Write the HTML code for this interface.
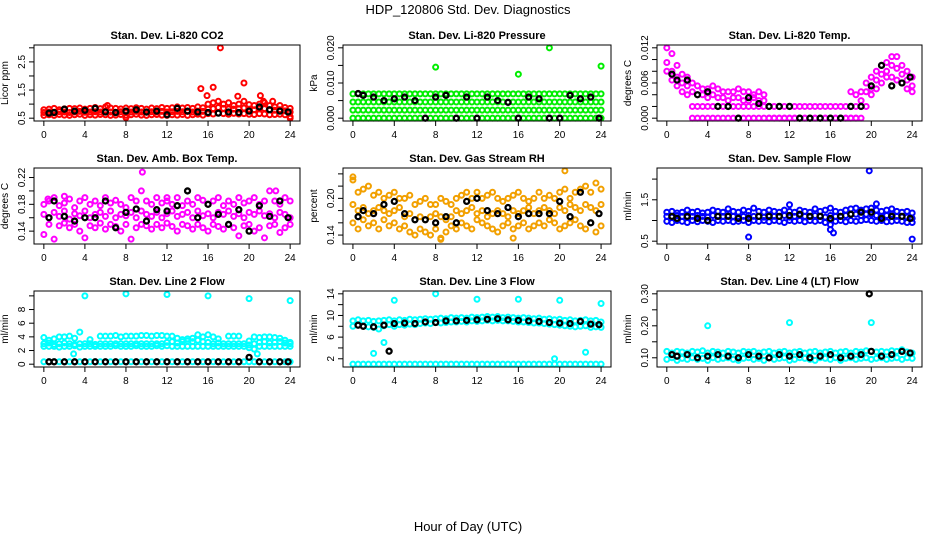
<!DOCTYPE html>
<html><head><meta charset="utf-8"><style>
body{margin:0;background:#fff;width:936px;height:540px;overflow:hidden}
svg text{font-family:"Liberation Sans",sans-serif}
</style></head><body>
<svg id="chart" width="936" height="540" viewBox="0 0 936 540" xmlns="http://www.w3.org/2000/svg">
<rect width="936" height="540" fill="#fff"/>
<text x="468" y="14" font-size="13" text-anchor="middle">HDP_120806  Std. Dev. Diagnostics</text>
<text x="468" y="531" font-size="13" text-anchor="middle">Hour of Day (UTC)</text>
</svg>
<script>
const hours=[0,0.5,1,1.5,2,2.5,3,3.5,4,4.5,5,5.5,6,6.5,7,7.5,8,8.5,9,9.5,10,10.5,11,11.5,12,12.5,13,13.5,14,14.5,15,15.5,16,16.5,17,17.5,18,18.5,19,19.5,20,20.5,21,21.5,22,22.5,23,23.5,24];
const bhours=[0.5,1,2,3,4,5,6,7,8,9,10,11,12,13,14,15,16,17,18,19,20,21,22,23,23.8];
const xTicks=[0,4,8,12,16,20,24];

const co2Hi=[0.8,0.82,0.85,0.8,0.83,0.85,0.84,0.86,0.82,0.85,0.88,0.84,0.9,0.86,0.85,0.83,0.86,0.84,0.87,0.85,0.82,0.86,0.84,0.88,0.85,0.87,0.9,0.86,0.88,0.85,0.9,0.87,1.0,1.05,1.1,1.0,1.05,0.95,1.0,1.1,0.98,0.95,1.0,1.05,0.95,0.9,0.95,0.88,0.85];
const co2Mid=[0.7,0.72,0.71,0.73,0.72,0.7,0.72,0.74,0.71,0.72,0.73,0.72,0.74,0.72,0.71,0.73,0.72,0.72,0.74,0.72,0.71,0.73,0.72,0.74,0.72,0.73,0.74,0.73,0.74,0.72,0.75,0.74,0.82,0.84,0.88,0.85,0.83,0.82,0.84,0.86,0.82,0.8,0.83,0.84,0.8,0.78,0.8,0.76,0.72];
const co2Lo=[0.6,0.62,0.6,0.63,0.61,0.6,0.62,0.64,0.6,0.62,0.61,0.63,0.62,0.6,0.61,0.63,0.6,0.62,0.64,0.61,0.6,0.62,0.63,0.61,0.6,0.62,0.61,0.63,0.6,0.62,0.64,0.61,0.66,0.65,0.68,0.66,0.64,0.67,0.65,0.66,0.64,0.63,0.66,0.65,0.62,0.63,0.64,0.62,0.55];
const co2Out=[[15.3,1.55],[15.9,1.3],[16.5,1.6],[17.2,3.0],[18.9,1.28],[19.5,1.75],[21.1,1.3],[21.4,1.1],[22.3,1.1],[24,0.5],[8,0.52],[6.2,0.95]];
const co2Black=[0.68,0.7,0.82,0.75,0.78,0.85,0.72,0.7,0.75,0.8,0.72,0.75,0.62,0.85,0.75,0.72,0.7,0.68,0.72,0.7,0.75,0.9,0.8,0.75,0.72];

const pressLevels=[0,0.0023,0.0046,0.0069];
const pressOut=[[8,0.0145],[16,0.0125],[19,0.02],[24,0.0148]];
const pressBlack=[0.007,0.0065,0.006,0.005,0.0055,0.006,0.005,0,0.006,0.0065,0,0.006,0,0.006,0.005,0.0045,0,0.006,0.0055,0,0,0.0065,0.0055,0.006,0];

const tempHi=[0.012,0.011,0.009,0.0075,0.007,0.006,0.0055,0.005,0.005,0.0055,0.005,0.0045,0.0045,0.0045,0.005,0.0045,0.0045,0.004,0.0045,0.004,0.002,0.002,0.002,0.002,0.002,0.002,0.002,0.002,0.002,0.002,0.002,0.002,0.002,0.002,0.002,0.002,0.0045,0.004,0.0045,0.006,0.007,0.008,0.009,0.0095,0.0105,0.0105,0.009,0.008,0.007];
const tempMid=[0.0095,0.008,0.007,0.006,0.0055,0.0045,0.004,0.004,0.0035,0.004,0.0035,0.0035,0.003,0.0035,0.0035,0.003,0.003,0.0035,0.003,0.003,null,null,null,null,null,null,null,null,null,null,null,null,null,null,null,null,0.002,0.002,0.003,0.0045,0.005,0.0065,0.0075,0.008,0.009,0.0085,0.0075,0.0065,0.0055];
const tempLo=[0.008,0.0065,0.0055,0.0045,0.004,0.002,0.002,0.002,0.002,0.002,0.002,0.002,0.002,0.002,0.002,0.002,0.002,0.002,0.002,0.002,0,0,0,0,0,0,0,0,0,0,0,0,0,0,0,0,0,0,0.002,0.002,0.004,0.005,0.006,0.007,0.007,0.0065,0.006,0.005,0.0045];
const tempZero=[null,null,null,null,null,0,0,0,0,0,0,0,0,0,0,0,0,0,0,0,0,0,0,0,0,0,0,0,0,0,0,0,0,0,0,0,0,0,0,null,null,null,null,null,null,null,null,null,null];
const tempBlack=[0.0075,0.0065,0.0065,0.004,0.0045,0.002,0.002,0,0.0035,0.0025,0.002,0.002,0.002,0,0,0,0,0,0.002,0.002,0.0055,0.009,0.0055,0.006,0.007];

const ambHi=[0.18,0.185,0.19,0.178,0.182,0.188,0.175,0.185,0.19,0.18,0.185,0.178,0.19,0.182,0.186,0.18,0.175,0.19,0.185,0.2,0.185,0.18,0.19,0.182,0.185,0.18,0.19,0.178,0.185,0.18,0.19,0.186,0.18,0.185,0.19,0.178,0.185,0.18,0.19,0.182,0.185,0.19,0.18,0.185,0.2,0.185,0.18,0.19,0.185];
const ambMid=[0.165,0.16,0.168,0.162,0.17,0.158,0.166,0.163,0.17,0.16,0.165,0.168,0.162,0.17,0.16,0.165,0.163,0.168,0.16,0.17,0.165,0.162,0.168,0.16,0.166,0.17,0.162,0.165,0.168,0.16,0.17,0.163,0.166,0.16,0.168,0.165,0.17,0.162,0.166,0.16,0.168,0.165,0.17,0.163,0.166,0.16,0.168,0.165,0.16];
const ambLo=[0.135,0.15,0.128,0.148,0.152,0.145,0.15,0.14,0.13,0.148,0.145,0.152,0.143,0.15,0.147,0.14,0.15,0.128,0.145,0.15,0.148,0.143,0.15,0.145,0.152,0.147,0.14,0.15,0.148,0.143,0.15,0.145,0.14,0.15,0.147,0.143,0.15,0.145,0.133,0.148,0.15,0.14,0.145,0.13,0.148,0.15,0.138,0.145,0.15];
const ambOut=[[9.6,0.228],[2,0.192],[22.6,0.2],[0.4,0.188],[12,0.19]];
const ambBlack=[0.16,0.185,0.162,0.155,0.16,0.16,0.185,0.145,0.168,0.173,0.155,0.172,0.17,0.178,0.2,0.16,0.18,0.165,0.15,0.172,0.14,0.178,0.162,0.185,0.16];

const rhHi=[0.23,0.21,0.215,0.22,0.205,0.21,0.2,0.205,0.21,0.2,0.2,0.205,0.19,0.195,0.2,0.19,0.19,0.2,0.195,0.19,0.2,0.205,0.21,0.2,0.21,0.2,0.205,0.21,0.2,0.195,0.2,0.205,0.21,0.2,0.195,0.2,0.21,0.2,0.205,0.2,0.21,0.215,0.2,0.21,0.215,0.22,0.21,0.225,0.215];
const rhMid=[0.19,0.18,0.185,0.175,0.18,0.185,0.18,0.175,0.18,0.185,0.17,0.175,0.165,0.17,0.165,0.17,0.175,0.17,0.165,0.17,0.18,0.175,0.18,0.185,0.175,0.18,0.17,0.175,0.18,0.175,0.17,0.18,0.175,0.18,0.185,0.175,0.18,0.185,0.18,0.175,0.185,0.18,0.19,0.185,0.18,0.19,0.185,0.18,0.19];
const rhLo=[0.16,0.15,0.165,0.155,0.16,0.15,0.165,0.155,0.16,0.15,0.155,0.145,0.14,0.15,0.145,0.14,0.15,0.135,0.145,0.155,0.15,0.16,0.155,0.15,0.165,0.16,0.155,0.15,0.145,0.155,0.16,0.15,0.155,0.16,0.15,0.155,0.16,0.155,0.165,0.16,0.15,0.155,0.16,0.165,0.155,0.15,0.16,0.145,0.155];
const rhOut=[[0,0.235],[20.5,0.245],[8.5,0.133],[15.5,0.135]];
const rhBlack=[0.17,0.18,0.175,0.19,0.195,0.175,0.165,0.165,0.16,0.17,0.16,0.195,0.2,0.18,0.175,0.185,0.17,0.175,0.175,0.175,0.195,0.17,0.21,0.16,0.175];

const flowHi=[1.2,1.22,1.18,1.2,1.25,1.2,1.22,1.18,1.2,1.25,1.22,1.2,1.28,1.22,1.2,1.25,1.22,1.3,1.22,1.2,1.25,1.22,1.2,1.25,1.22,1.2,1.25,1.22,1.2,1.28,1.22,1.25,1.3,1.22,1.2,1.25,1.28,1.3,1.25,1.28,1.3,1.25,1.22,1.25,1.28,1.22,1.2,1.22,1.18];
const flowMid=[1.1,1.08,1.12,1.1,1.08,1.1,1.12,1.1,1.08,1.12,1.1,1.1,1.12,1.1,1.08,1.1,1.12,1.1,1.1,1.08,1.12,1.1,1.1,1.12,1.08,1.1,1.12,1.1,1.1,1.12,1.1,1.08,1.12,1.1,1.1,1.12,1.15,1.15,1.12,1.15,1.15,1.12,1.1,1.12,1.15,1.1,1.1,1.08,1.05];
const flowLo=[0.98,0.95,1.0,0.98,0.95,1.0,0.97,1.0,0.98,0.95,1.0,0.98,1.0,0.97,0.98,1.0,0.95,1.0,0.98,1.0,0.97,1.0,0.98,0.95,1.0,0.98,1.0,0.97,1.0,0.98,1.0,0.95,0.9,0.98,1.0,0.97,1.0,0.98,1.0,1.02,1.0,0.98,1.0,0.97,0.98,1.0,0.98,0.95,0.95];
const flowOut=[[8,0.6],[16.3,0.7],[16,0.78],[19.8,2.2],[24,0.55],[12,1.38],[20.5,1.4]];
const flowBlack=[1.1,1.05,1.1,1.05,1.0,1.1,1.1,1.05,1.05,1.1,1.1,1.1,1.12,1.15,1.1,1.1,1.05,1.1,1.15,1.2,1.2,1.05,1.1,1.1,1.05];

const l2Hi=[3.9,3.5,3.7,4.0,4.0,4.1,3.8,null,null,3.6,null,4.1,4.1,4.1,4.2,4.0,4.1,4.1,4.1,4.2,4.2,4.1,4.2,4.2,4.1,4.1,3.8,3.6,3.7,3.8,4.3,4.0,4.3,4.0,3.7,null,4.1,4.1,4.1,null,3.4,4.0,3.9,4.0,4.0,3.9,3.8,3.5,3.2];
const l2Mid=[3.0,3.1,2.9,3.0,3.1,3.0,2.9,3.0,3.0,3.0,2.9,3.0,3.0,3.0,3.0,3.0,3.0,3.0,3.0,3.0,3.0,3.0,3.0,3.0,3.2,3.3,3.1,3.3,3.4,3.3,3.5,3.3,3.2,3.0,3.1,3.0,3.0,3.0,3.0,3.0,2.8,3.0,3.2,3.3,3.1,3.2,3.3,3.1,3.0];
const l2Lo=[2.6,2.6,2.6,2.5,2.6,2.6,2.7,2.5,2.6,2.6,2.6,2.6,2.6,2.6,2.7,2.6,2.6,2.6,2.7,2.6,2.6,2.6,2.7,2.6,2.7,2.6,2.6,2.6,2.6,2.6,2.6,2.6,2.6,2.6,2.6,2.6,2.6,2.6,2.6,2.6,2.4,2.2,2.6,2.6,2.6,2.6,2.6,2.6,2.6];
const l2Levels=[0.35];
const l2Out=[[4,10],[8,10.3],[12,10.2],[16,10],[20,9.6],[24,9.3],[3.5,4.7],[2.9,1.5],[20.8,1.5]];
const l2Black=[0.35,0.35,0.35,0.35,0.35,0.35,0.35,0.35,0.35,0.35,0.35,0.35,0.35,0.35,0.35,0.35,0.35,0.35,0.35,0.35,1.0,0.35,0.35,0.35,0.35];

const l3Hi=[9.0,9.2,9.0,9.1,8.9,9.0,9.1,9.2,9.0,9.2,9.1,9.3,9.2,9.3,9.4,9.3,9.4,9.5,9.4,9.6,9.5,9.6,9.5,9.7,9.6,9.7,9.8,9.7,9.8,9.6,9.7,9.6,9.5,9.6,9.5,9.4,9.5,9.3,9.4,9.2,9.3,9.1,9.2,9.0,9.1,9.2,9.0,9.1,8.8];
const l3Lo=[8.0,8.2,8.0,7.9,7.8,7.5,8.1,8.3,8.0,8.3,8.2,8.4,8.3,8.5,8.6,8.5,8.7,8.6,8.7,8.8,8.8,8.9,8.8,9.0,8.9,9.0,9.1,9.0,9.1,9.0,9.0,8.9,8.8,8.8,8.7,8.6,8.6,8.5,8.4,8.3,8.2,8.1,8.0,7.9,8.0,8.1,7.8,7.9,7.8];
const l3Levels=[1.0];
const l3Out=[[4,12.8],[8,14],[12,13],[16,13],[20,12.8],[24,12.2],[3,5],[2,3],[19.5,2],[22.5,3.2]];
const l3Black=[8.2,8.0,7.9,8.2,8.5,8.6,8.5,8.8,8.7,9.0,9.0,9.1,9.2,9.3,9.4,9.2,9.1,9.0,8.9,8.7,8.6,8.5,8.9,8.4,8.3];

const l4Hi=[0.12,0.115,0.12,0.118,0.115,0.12,0.118,0.122,0.115,0.12,0.118,0.115,0.12,0.118,0.115,0.12,0.118,0.12,0.115,0.118,0.12,0.115,0.118,0.12,0.115,0.118,0.12,0.115,0.118,0.12,0.115,0.118,0.12,0.115,0.118,0.12,0.115,0.12,0.118,0.122,0.12,0.118,0.12,0.118,0.122,0.12,0.125,0.118,0.115];
const l4Lo=[0.095,0.1,0.092,0.098,0.095,0.1,0.095,0.098,0.092,0.1,0.095,0.098,0.1,0.095,0.092,0.098,0.1,0.095,0.098,0.092,0.1,0.095,0.098,0.1,0.092,0.095,0.1,0.098,0.095,0.092,0.1,0.098,0.095,0.1,0.092,0.098,0.1,0.095,0.098,0.1,0.095,0.098,0.1,0.095,0.098,0.1,0.095,0.1,0.098];
const l4Out=[[4,0.2],[12,0.21],[20,0.21]];
const l4Black=[0.11,0.105,0.11,0.1,0.105,0.11,0.105,0.1,0.11,0.105,0.1,0.11,0.105,0.11,0.1,0.105,0.11,0.1,0.105,0.11,0.12,0.105,0.11,0.12,0.115];
const l4BlackOut=[[19.8,0.3]];

const NS="http://www.w3.org/2000/svg";
const svg=document.getElementById('chart');
const colBox=[[34,300],[343,611],[657,922]];
const rowBox=[[45,121],[168,244],[291,367]];

const panels=[
 {name:'co2',title:'Stan. Dev. Li-820 CO2',ylab:'Licor ppm',r:0,c:0,ymin:0.5,ymax:3.0,ticks:[0.5,1,1.5,2,2.5,3],labels:['0.5','','1.5','','2.5',''],color:'#ff0000',series:[co2Lo,co2Mid,co2Hi],levels:[],out:co2Out,black:co2Black,bout:[]},
 {name:'pressure',title:'Stan. Dev. Li-820 Pressure',ylab:'kPa',r:0,c:1,ymin:0,ymax:0.02,ticks:[0,0.005,0.01,0.015,0.02],labels:['0.000','','0.010','','0.020'],color:'#00ee00',series:[],levels:pressLevels,out:pressOut,black:pressBlack,bout:[]},
 {name:'temp',title:'Stan. Dev. Li-820 Temp.',ylab:'degrees C',r:0,c:2,ymin:0,ymax:0.012,ticks:[0,0.002,0.004,0.006,0.008,0.01,0.012],labels:['0.000','','','0.006','','','0.012'],color:'#ff00ff',series:[tempZero,tempLo,tempMid,tempHi],levels:[],out:[],black:tempBlack,bout:[]},
 {name:'amb-box-temp',title:'Stan. Dev. Amb. Box Temp.',ylab:'degrees C',r:1,c:0,ymin:0.125,ymax:0.23,ticks:[0.14,0.16,0.18,0.2,0.22],labels:['0.14','','0.18','','0.22'],color:'#ff00ff',series:[ambLo,ambMid,ambHi],levels:[],out:ambOut,black:ambBlack,bout:[]},
 {name:'gas-rh',title:'Stan. Dev. Gas Stream RH',ylab:'percent',r:1,c:1,ymin:0.13,ymax:0.245,ticks:[0.14,0.16,0.18,0.2,0.22,0.24],labels:['0.14','','','0.20','',''],color:'#f2a000',series:[rhLo,rhMid,rhHi],levels:[],out:rhOut,black:rhBlack,bout:[]},
 {name:'sample-flow',title:'Stan. Dev. Sample Flow',ylab:'ml/min',r:1,c:2,ymin:0.5,ymax:2.2,ticks:[0.5,1,1.5,2],labels:['0.5','','1.5',''],color:'#0000ff',series:[flowLo,flowMid,flowHi],levels:[],out:flowOut,black:flowBlack,bout:[]},
 {name:'line2-flow',title:'Stan. Dev. Line 2 Flow',ylab:'ml/min',r:2,c:0,ymin:0,ymax:10.3,ticks:[0,2,4,6,8,10],labels:['0','2','4','6','8',''],color:'#00ffff',series:[l2Lo,l2Mid,l2Hi],levels:l2Levels,out:l2Out,black:l2Black,bout:[]},
 {name:'line3-flow',title:'Stan. Dev. Line 3 Flow',ylab:'ml/min',r:2,c:1,ymin:1,ymax:14,ticks:[2,4,6,8,10,12,14],labels:['2','','6','','10','','14'],color:'#00ffff',series:[l3Lo,l3Hi],levels:l3Levels,out:l3Out,black:l3Black,bout:[[3.5,3.4]]},
 {name:'line4-flow',title:'Stan. Dev. Line 4 (LT) Flow',ylab:'ml/min',r:2,c:2,ymin:0.08,ymax:0.3,ticks:[0.1,0.15,0.2,0.25,0.3],labels:['0.10','','0.20','','0.30'],color:'#00ffff',series:[l4Lo,l4Hi],levels:[],out:l4Out,black:l4Black,bout:l4BlackOut}
];

function mk(tag,attrs,parent){const e=document.createElementNS(NS,tag);for(const k in attrs)e.setAttribute(k,attrs[k]);(parent||svg).appendChild(e);return e;}

panels.forEach(p=>{
  const [L,R]=colBox[p.c],[T,B]=rowBox[p.r];
  const xs=v=>L+(v+0.96)/25.92*(R-L);
  const pad=(p.ymax-p.ymin)*0.04;
  const ys=v=>B-(v-(p.ymin-pad))/((p.ymax-p.ymin)+2*pad)*(B-T);
  const g=mk('g',{});
  
  
  const t=mk('text',{x:(L+R)/2,y:T-6,'font-size':11,'font-weight':'bold','text-anchor':'middle'},g);
  
  
  t.textContent=p.title;
  const yl=mk('text',{x:0,y:0,'font-size':10,'text-anchor':'middle',transform:`translate(${L-26},${(T+B)/2}) rotate(-90)`},g);
  
  
  yl.textContent=p.ylab;
  const plot=mk('g',{},g);
  
  
  const dot=(x,y,col,sw)=>{const c=mk('circle',{cx:xs(x),cy:ys(y),r:2.5,fill:'none',stroke:col,'stroke-width':sw},plot);};
  p.levels.forEach(lv=>hours.forEach(h=>dot(h,lv,p.color,2)));
  p.series.forEach(s=>s.forEach((v,i)=>{if(v!==null)dot(hours[i],v,p.color,2);}));
  p.out.forEach(o=>dot(o[0],o[1],p.color,2));
  p.black.forEach((v,i)=>dot(bhours[i],v,'#000',2.3));
  p.bout.forEach(o=>dot(o[0],o[1],'#000',2.3));
  const box=mk('rect',{x:L,y:T,width:R-L,height:B-T,fill:'none',stroke:'#000','stroke-width':1},g);
  
  
  const xa=mk('g',{},g);
  
  
  mk('line',{x1:xs(xTicks[0]),x2:xs(xTicks[xTicks.length-1]),y1:B,y2:B,stroke:'#000'},xa);
  xTicks.forEach(v=>{mk('line',{x1:xs(v),x2:xs(v),y1:B,y2:B+5,stroke:'#000'},xa);const tx=mk('text',{x:xs(v),y:B+17,'font-size':10,'text-anchor':'middle'},xa);tx.textContent=v;});
  const ya=mk('g',{},g);
  
  
  mk('line',{x1:L,x2:L,y1:ys(p.ticks[0]),y2:ys(p.ticks[p.ticks.length-1]),stroke:'#000'},ya);
  p.ticks.forEach((v,i)=>{mk('line',{x1:L-5,x2:L,y1:ys(v),y2:ys(v),stroke:'#000'},ya);if(p.labels[i]){const tx=mk('text',{x:0,y:0,'font-size':10,'text-anchor':'middle',transform:`translate(${L-9},${ys(v)}) rotate(-90)`},ya);tx.textContent=p.labels[i];}});
});
</script>
</body></html>
